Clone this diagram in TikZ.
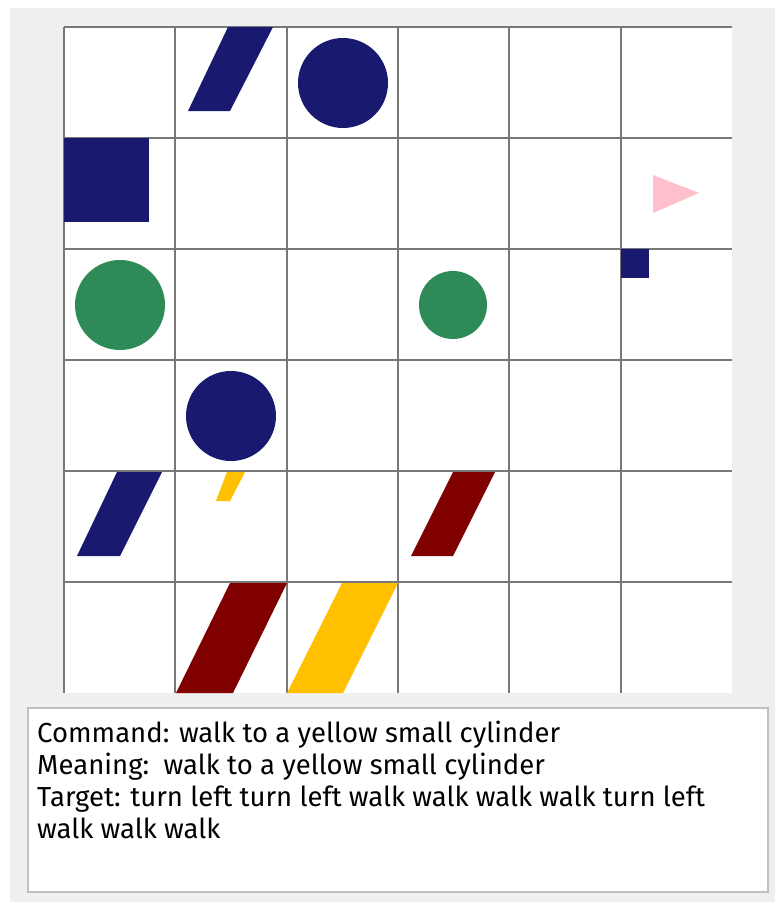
\documentclass[tikz,border=0pt]{standalone}
\usepackage{fontspec}
\setmainfont{Fira Sans}
\usepackage{xcolor}
\usepackage{tikz}
\usetikzlibrary{positioning}
\definecolor{panelgray}{HTML}{EFEFEF}
\definecolor{boxedge}{HTML}{C0C0C0}
\definecolor{gridgray}{HTML}{787878}
\definecolor{shapenavy}{HTML}{191970}
\definecolor{shapegreen}{HTML}{2E8B57}
\definecolor{shapemaroon}{HTML}{800000}
\definecolor{shapeyellow}{HTML}{FFC000}
\definecolor{shapepink}{HTML}{FFC0CB}
\tikzset{gridline/.style={draw=gridgray,line width=1.8pt},
  navyfill/.style={fill=shapenavy}, greenfill/.style={fill=shapegreen},
  maroonfill/.style={fill=shapemaroon}, yellowfill/.style={fill=shapeyellow},
  pinkfill/.style={fill=shapepink},
  infotext/.style={anchor=north west,inner sep=0pt,align=left,text=black,
  font=\fontsize{27.5}{32}\selectfont}}

\begin{document}
\begin{tikzpicture}[x=1pt,y=-1pt]
 \useasboundingbox (0,0) rectangle (775,902);
 \fill[white] (0,0) rectangle (775,902);
 \fill[panelgray] (10,8) rectangle (775,902);
 % world grid
 \fill[white] (64,27) rectangle (732,693);
 \foreach \i in {0,...,5} {
   \draw[gridline] ({64+111.33*\i},27) -- ({64+111.33*\i},693);
   \draw[gridline] (64,{27+111*\i}) -- (732,{27+111*\i});
 }
 % objects
 \fill[navyfill] (188,111) -- (230,111) -- (273,27) -- (228,27) -- cycle;
 \fill[navyfill] (343,83) circle (45);
 \fill[navyfill] (64,138) rectangle (149,222);
 \fill[pinkfill] (653,175) -- (699,193) -- (653,213) -- cycle;
 \fill[navyfill] (621,249) rectangle (649,278);
 \fill[greenfill] (120,305) circle (45);
 \fill[greenfill] (453,305) circle (34);
 \fill[navyfill] (231,416) circle (45);
 \fill[navyfill] (77,556) -- (120,556) -- (162,472) -- (117,472) -- cycle;
 \fill[yellowfill] (216,501) -- (230,501) -- (245,472) -- (227,472) -- cycle;
 \fill[maroonfill] (411,556) -- (453,556) -- (495,472) -- (453,472) -- cycle;
 \fill[maroonfill] (176,693) -- (233,693) -- (287,583) -- (230,583) -- cycle;
 \fill[yellowfill] (287,693) -- (343,693) -- (398,583) -- (342,583) -- cycle;
 % command panel
 \node[draw=boxedge,line width=1.5pt,fill=white,minimum width=740pt,
  minimum height=184pt,anchor=north west,inner sep=0pt] (panel) at (27,707) {};
 \node[infotext] (info) at (37,721)
  {Command: walk to a yellow small cylinder\\
   Meaning:\ \ walk to a yellow small cylinder\\
   Target: turn left turn left walk walk walk walk turn left\\
   walk walk walk};
\end{tikzpicture}
\end{document}
